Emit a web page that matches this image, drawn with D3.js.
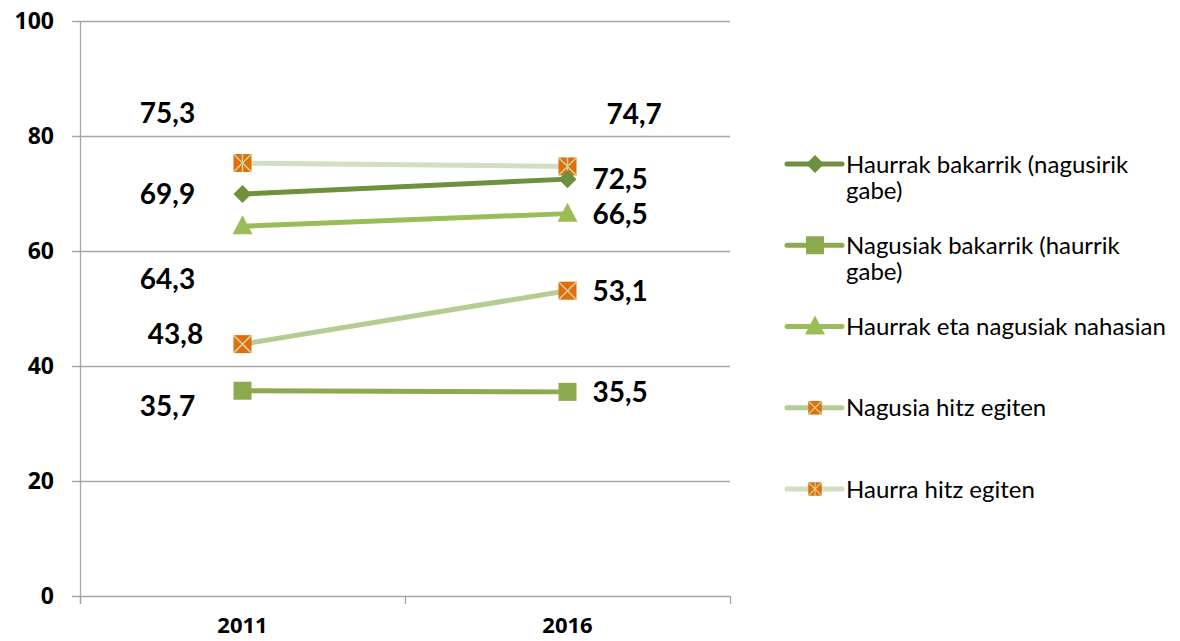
<!DOCTYPE html>
<html>
<head>
<meta charset="utf-8">
<script src="https://cdn.jsdelivr.net/npm/d3@7"></script>
<style>
body { margin: 0; background: #fff; }
svg { display: block; }
</style>
</head>
<body>
<svg id="chart" width="1180" height="641"></svg>
<script>
// data
var years = ["2011", "2016"];
var yTicks = [0, 20, 40, 60, 80, 100];
var seriesNames = [
	"Haurrak bakarrik (nagusirik gabe)",
	"Nagusiak bakarrik (haurrik gabe)",
	"Haurrak eta nagusiak nahasian",
	"Nagusia hitz egiten",
	"Haurra hitz egiten"
];
var haurrakBakarrik = [69.9, 72.5];
var nagusiakBakarrik = [35.7, 35.5];
var nahasian = [64.3, 66.5];
var nagusiaHitz = [43.8, 53.1];
var haurraHitz = [75.3, 74.7];

var values = [haurrakBakarrik, nagusiakBakarrik, nahasian, nagusiaHitz, haurraHitz];

// look of each series (line colour, marker, label nudges per year)
var looks = [
	{line: "#6f903c", marker: "diamond", fill: "#6f903c", nudge: [[0, 0], [0, 0]]},
	{line: "#8daa4f", marker: "square", fill: "#8daa4f", nudge: [[0, 15], [0, 0]]},
	{line: "#9bbd58", marker: "triangle", fill: "#9bbd58", nudge: [[0, 53], [0, 0]]},
	{line: "#b5cc93", marker: "cross", fill: "#e46c0a", nudge: [[8, -10], [0, 0]]},
	{line: "#d2ddc1", marker: "star", fill: "#e46c0a", nudge: [[0, -50], [14, -53]]}
];

var margin = {left: 80, right: 450, top: 21, bottom: 45};
var W = 1180, H = 641;

var svg = d3.select("#chart");

var x = d3.scaleBand().domain(years).range([margin.left, W - margin.right]);
var y = d3.scaleLinear().domain([0, 100]).range([H - margin.bottom, margin.top]);

// grid
svg.append("g")
	.selectAll("line")
	.data(yTicks)
	.enter()
	.append("line")
	.attr("x1", margin.left - 8)
	.attr("x2", W - margin.right)
	.attr("y1", function(d) { return Math.round(y(d)) + 0.5; })
	.attr("y2", function(d) { return Math.round(y(d)) + 0.5; })
	.style("stroke", "#a6a6a6")
	.style("stroke-width", 1.3);

// y axis line
svg.append("line")
	.attr("x1", margin.left + 0.5).attr("x2", margin.left + 0.5)
	.attr("y1", y(100)).attr("y2", y(0) + 8)
	.style("stroke", "#a6a6a6").style("stroke-width", 1.3);

// x ticks at band edges
var edges = years.map(function(d) { return x(d); }).concat([x.range()[1]]);
svg.append("g").selectAll("line")
	.data(edges)
	.enter()
	.append("line")
	.attr("x1", function(d) { return Math.round(d) + 0.5; })
	.attr("x2", function(d) { return Math.round(d) + 0.5; })
	.attr("y1", y(0))
	.attr("y2", y(0) + 8)
	.style("stroke", "#a6a6a6").style("stroke-width", 1.3);

// y tick labels
svg.append("g").selectAll("text")
	.data(yTicks)
	.enter()
	.append("text")
	.attr("x", 54)
	.attr("y", function(d) { return y(d); })
	.attr("dy", "0.36em")
	.style("text-anchor", "end")
	.style("font-family", "'Open Sans', sans-serif")
	.style("font-weight", "bold")
	.style("font-size", "23px")
	.text(function(d) { return d; });

// x labels
svg.append("g").selectAll("text")
	.data(years)
	.enter()
	.append("text")
	.attr("x", function(d) { return x(d) + x.bandwidth() / 2; })
	.attr("y", 633)
	.style("text-anchor", "middle")
	.style("font-family", "'Open Sans', sans-serif")
	.style("font-weight", "bold")
	.style("font-size", "22px")
	.text(function(d) { return d; });

var cx = function(i) { return x(years[i]) + x.bandwidth() / 2; };

function drawMarker(g, kind, fill) {
	if (kind == "diamond") {
		g.append("path").attr("d", "M0,-9L9,0L0,9L-9,0Z").style("fill", fill);
	} else if (kind == "square") {
		g.append("rect").attr("x", -9).attr("y", -9).attr("width", 18).attr("height", 18).style("fill", fill);
	} else if (kind == "triangle") {
		g.append("path").attr("d", "M0,-11L10,8L-10,8Z").style("fill", fill);
	} else {
		g.append("rect").attr("x", -9).attr("y", -9).attr("width", 18).attr("height", 18).style("fill", fill);
		g.append("path").attr("d", "M-9,-9L9,9M9,-9L-9,9")
			.style("stroke", "#c6d9a0").style("stroke-width", 1.5);
		if (kind == "star") {
			g.append("path").attr("d", "M0,-9L0,9")
				.style("stroke", "#c6d9a0").style("stroke-width", 1.5);
		}
	}
}

var lineGen = d3.line()
	.x(function(d, i) { return cx(i); })
	.y(function(d) { return y(d); });

// draw series (reverse so the first one sits on top)
var order = [4, 3, 2, 1, 0];
order.forEach(function(s) {
	var look = looks[s];
	var g = svg.append("g");
	g.append("path")
		.datum(values[s])
		.attr("d", lineGen)
		.style("fill", "none")
		.style("stroke", look.line)
		.style("stroke-width", 5);
	values[s].forEach(function(v, i) {
		var m = g.append("g").attr("transform", "translate(" + cx(i) + "," + y(v) + ")");
		drawMarker(m, look.marker, look.fill);
	});
});

// data labels
values.forEach(function(vals, s) {
	vals.forEach(function(v, i) {
		var n = looks[s].nudge[i];
		svg.append("text")
			.attr("x", (i == 0 ? cx(i) - 75 : cx(i) + 25) + n[0])
			.attr("y", y(v) + n[1])
			.attr("dy", "0.36em")
			.style("text-anchor", i == 0 ? "middle" : "start")
			.style("font-family", "Lato, 'Open Sans', sans-serif")
			.style("font-weight", "bold")
			.style("font-size", "28px")
			.text(d3.format(".1f")(v).replace(".", ","));
	});
});

// legend
var ly = d3.scalePoint().domain(seriesNames).range([164, 489]);
var legend = svg.append("g");
seriesNames.forEach(function(name, s) {
	var look = looks[s];
	var g = legend.append("g").attr("transform", "translate(0," + ly(name) + ")");
	g.append("line").attr("x1", 787).attr("x2", 842).attr("y1", 0).attr("y2", 0)
		.style("stroke", look.line).style("stroke-width", 5).style("stroke-linecap", "round");
	var m = g.append("g").attr("transform", "translate(815,0)");
	if (look.marker == "cross" || look.marker == "star") {
		m.attr("transform", "translate(815,0) scale(0.75)");
	}
	drawMarker(m, look.marker, look.fill);

	var t = g.append("text")
		.attr("x", 846)
		.attr("y", 0)
		.style("font-family", "Lato, 'Open Sans', sans-serif")
		.style("font-size", "24px")
		.style("fill", "#000");
	// wrap words
	var words = name.split(" ");
	var ts = t.append("tspan").attr("x", 846).attr("dy", "0.36em");
	var cur = [];
	words.forEach(function(w) {
		cur.push(w);
		ts.text(cur.join(" "));
		if (ts.node().getComputedTextLength() > 328 && cur.length > 1) {
			cur.pop();
			ts.text(cur.join(" "));
			cur = [w];
			ts = t.append("tspan").attr("x", 846).attr("dy", "1.1em").text(w);
		}
	});
});
</script>
</body>
</html>
